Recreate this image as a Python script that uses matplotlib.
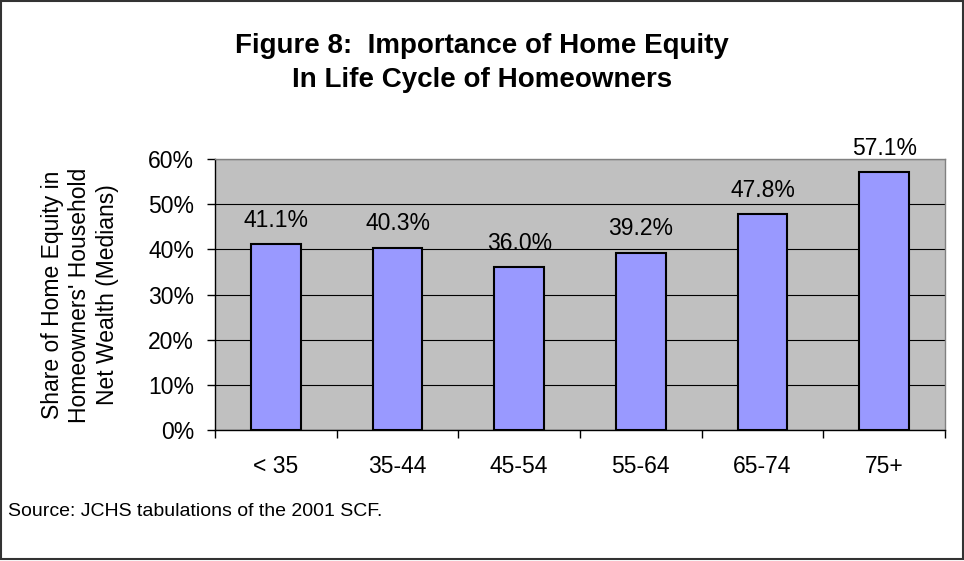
import matplotlib
matplotlib.use("Agg")
import matplotlib.pyplot as plt
from matplotlib.patches import Rectangle

plt.rcParams['font.family'] = ['Liberation Sans', 'DejaVu Sans']

categories = ["< 35", "35-44", "45-54", "55-64", "65-74", "75+"]
values = [41.1, 40.3, 36.0, 39.2, 47.8, 57.1]
yticks = [0, 10, 20, 30, 40, 50, 60]
ytick_labels = ["0%", "10%", "20%", "30%", "40%", "50%", "60%"]
title = "Figure 8:  Importance of Home Equity\nIn Life Cycle of Homeowners"
ylabel = "Share of Home Equity in\nHomeowners' Household\nNet Wealth (Medians)"
source = "Source: JCHS tabulations of the 2001 SCF."

FS = 16.5

fig = plt.figure(figsize=(9.64, 5.61), dpi=100)
ax = fig.add_axes([215/964, 1 - 430/561, (945-215)/964, (430-159)/561])
ax.set_facecolor("#C0C0C0")

x = list(range(len(categories)))
ax.bar(x, values, width=0.41, color="#9999FF", edgecolor="black", linewidth=1.5, zorder=3)
for xi, v in zip(x, values):
    ax.annotate(f"{v:.1f}%", (xi, v), xytext=(0, 9), textcoords="offset points",
                ha="center", va="bottom", fontsize=FS, zorder=4)

ax.set_xlim(-0.5, len(categories) - 0.5)
ax.set_ylim(0, 60)
ax.set_yticks(yticks)
ax.set_yticklabels(ytick_labels, fontsize=FS)
ax.set_xticks(x)
ax.set_xticklabels(categories, fontsize=FS)
ax.tick_params(axis="x", length=0, pad=18)
ax.set_xticks([i - 0.5 for i in range(len(categories) + 1)], minor=True)
ax.tick_params(axis="x", which="minor", length=6, width=1, color="black", direction="out")
ax.tick_params(axis="y", length=6, width=1, color="black", direction="out", pad=9)
ax.yaxis.grid(True, color="#000000", linewidth=0.8, zorder=1)
ax.set_axisbelow(True)
for s in ["top", "right"]:
    ax.spines[s].set_color("#808080")
    ax.spines[s].set_linewidth(1)
for s in ["left", "bottom"]:
    ax.spines[s].set_color("black")
    ax.spines[s].set_linewidth(1)

fig.text(0.5, 1 - 63/561, title, ha="center", va="center", fontsize=20,
         fontweight="bold", linespacing=1.4)
fig.text(80/964, 1 - 295/561, ylabel, ha="center", va="center", rotation=90,
         fontsize=FS, linespacing=1.25)
fig.text(8/964, 1 - 512/561, source, ha="left", va="center", fontsize=14)

fig.patches.append(Rectangle((1/964, 2/561), 1 - 2.5/964, 1 - 2.5/561, transform=fig.transFigure,
                             fill=False, edgecolor="#333333", linewidth=1.5))

fig.savefig("out.png", dpi=100)
